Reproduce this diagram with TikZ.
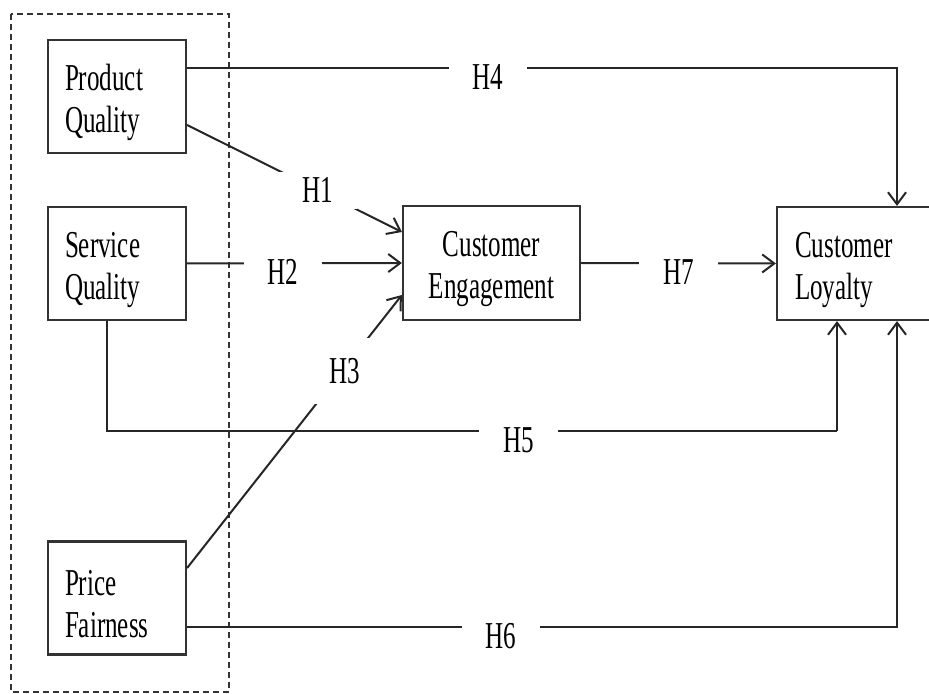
\documentclass[tikz,border=0pt]{standalone}
\usepackage{fontspec}
\setmainfont{Liberation Serif}[FakeStretch=0.66]
\usetikzlibrary{arrows.meta}
\newcommand{\boxstrut}{\rule{0pt}{19pt}}

\begin{document}
\begin{tikzpicture}[
    x=0.5pt, y=-0.5pt,
    every node/.style={font=\fontsize{19}{21}\selectfont},
    construct box/.style={draw=black!80, line width=1.1pt, rectangle, inner sep=0pt, minimum height=56.5pt},
    left box/.style={construct box, align=left, text width=52pt, inner xsep=8.5pt},
    path arrow/.style={draw=black!85, line width=1pt, -{Straight Barb[length=6pt, width=9pt]}},
    path line/.style={draw=black!85, line width=1pt},
    hyp label/.style={fill=white, inner xsep=12pt, inner ysep=3pt},
    flat label/.style={hyp label, yshift=-4.5pt},
    group frame/.style={draw=black!80, line width=0.8pt, dash pattern=on 3pt off 2pt},
    ]
\useasboundingbox (0,0) rectangle (929,694);
\clip (0,0) rectangle (929,694);
% grouping of the antecedents
\draw[group frame] (11,14) rectangle (229,692);
\node[left box] (PQ) at (117,96.5) {\boxstrut Product\\Quality};
\node[left box] (SQ) at (117,263.5) {\boxstrut Service\\Quality};
\node[left box] (PF) at (117,598) {\boxstrut Price\\Fairness};
\node[construct box, align=center, minimum width=88.5pt, minimum height=57pt] (CE) at (491.5,263) {\boxstrut Customer\\Engagement};
\node[construct box, align=left, text width=102pt, inner xsep=9pt] (CL) at (897,263.5) {\boxstrut Customer\\Loyalty};
\coordinate (H5bend) at (837,431);
% hypotheses
\draw[path arrow] ([yshift=-14.25pt]PQ.east) -- node[hyp label, pos=0.61] (H1) {H1} ([yshift=15.5pt]CE.west);
\draw[path arrow] (SQ.east) -- node[flat label, pos=0.447] (H2) {H2} (CE.west);
\draw[path arrow] ([yshift=15pt]PF.east) -- node[hyp label, pos=0.733, inner ysep=10pt, yshift=-1.5pt] (H3) {H3} ([yshift=-16pt]CE.west);
\draw[path arrow] ([yshift=14.25pt]PQ.east) -| node[flat label, pos=0.212] (H4) {H4} (CL.north);
\draw[path line] ([xshift=-5pt]SQ.south) |- node[flat label, pos=0.782] (H5) {H5} (H5bend);
\draw[path arrow] (H5bend) -- ([xshift=-30pt]CL.south);
\draw[path arrow] ([yshift=-14.5pt]PF.east) -| node[flat label, pos=0.221] (H6) {H6} (CL.south);
\draw[path arrow] (CE.east) -- node[flat label, pos=0.5] (H7) {H7} (CL.west);
\end{tikzpicture}
\end{document}
